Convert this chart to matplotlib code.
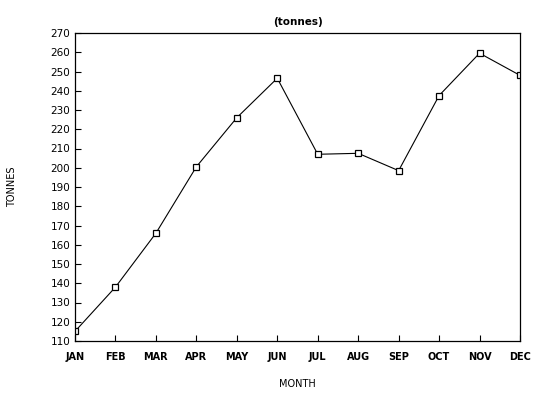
import matplotlib
matplotlib.use("Agg")
import matplotlib.pyplot as plt

months = ["JAN","FEB","MAR","APR","MAY","JUN","JUL","AUG","SEP","OCT","NOV","DEC"]
tonnes = [115, 138, 166, 200.5, 226, 246.5, 207, 207.5, 198.5, 237.5, 259.5, 248]

fig = plt.figure(figsize=(5.5, 4.01), dpi=100)
ax = fig.add_axes([75/550, 1-341/401, 445/550, 308/401])
x = list(range(len(months)))
ax.plot(x, tonnes, color="black", lw=0.8, marker="s", markersize=5,
        markerfacecolor="white", markeredgecolor="black", markeredgewidth=0.9)
ax.set_xlim(0, 11)
ax.set_ylim(110, 270)
ax.set_yticks(range(110, 271, 10))
ax.set_xticks(x)
ax.set_xticklabels(months, fontsize=7, fontweight="bold")
ax.tick_params(axis="y", labelsize=7.5, direction="in", length=4)
ax.tick_params(axis="x", direction="in", length=4, pad=8)
ax.set_xlabel("MONTH", fontsize=7, labelpad=12)
ax.set_ylabel("TONNES", fontsize=7, labelpad=24)
ax.set_title("(tonnes)", fontsize=7.5, fontweight="bold", pad=6)
for s in ax.spines.values():
    s.set_linewidth(0.9)
fig.savefig("out.png", dpi=100)
